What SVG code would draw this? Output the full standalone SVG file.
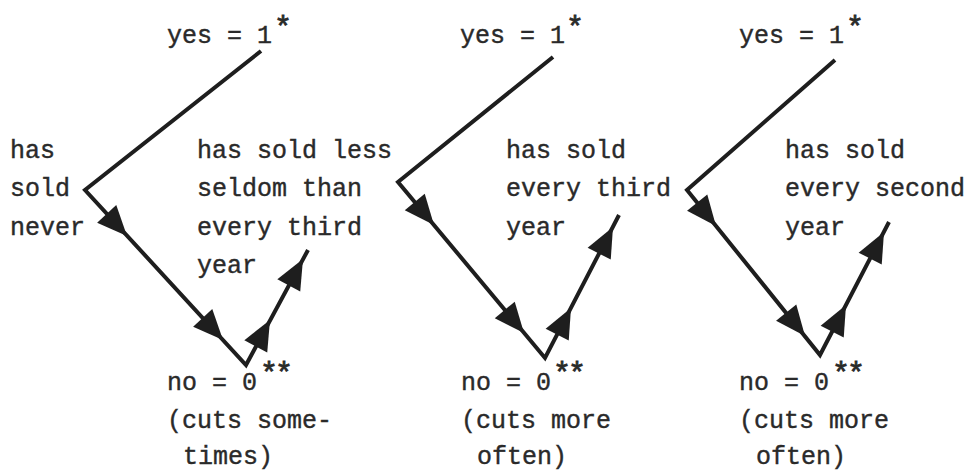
<svg xmlns="http://www.w3.org/2000/svg" xmlns:xlink="http://www.w3.org/1999/xlink" width="974" height="471" viewBox="0 0 974 471">
<style>
  text { font-family: "Liberation Mono", "DejaVu Sans Mono", monospace; font-size: 25px; fill: #2a2a2a; stroke: #2a2a2a; stroke-width: 0.4; }
  text.sup { font-size: 30px; stroke-width: 0.8; }
  text.sup2 { font-size: 30px; stroke-width: 0.8; letter-spacing: -3px; }
  .ln { fill: none; stroke: #1e1e1e; stroke-width: 4; stroke-linejoin: miter; stroke-linecap: butt; }
  .ah { fill: #1e1e1e; }
</style>
<defs>
  <path id="ah" class="ah" d="M0,0 L-30,-13 L-30,13 Z"/>
</defs>
<rect width="974" height="471" fill="#ffffff"/>

<g id="connectors">
  <polyline class="ln" points="261,51 85,190 246,365 308,250"/>
  <use xlink:href="#ah" transform="translate(127,236) rotate(47.4)"/>
  <use xlink:href="#ah" transform="translate(223,340) rotate(47.4)"/>
  <use xlink:href="#ah" transform="translate(270,320) rotate(-61.7)"/>
  <use xlink:href="#ah" transform="translate(303,259) rotate(-61.7)"/>

  <polyline class="ln" points="553,57 398,182 545,358 619,215"/>
  <use xlink:href="#ah" transform="translate(434,225) rotate(50.1)"/>
  <use xlink:href="#ah" transform="translate(524,333) rotate(50.1)"/>
  <use xlink:href="#ah" transform="translate(571,308) rotate(-62.6)"/>
  <use xlink:href="#ah" transform="translate(613,227) rotate(-62.6)"/>

  <polyline class="ln" points="835,60 687,190 820,355 889,222"/>
  <use xlink:href="#ah" transform="translate(716,226) rotate(51.1)"/>
  <use xlink:href="#ah" transform="translate(805,336) rotate(51.1)"/>
  <use xlink:href="#ah" transform="translate(846,305) rotate(-62.6)"/>
  <use xlink:href="#ah" transform="translate(884,232) rotate(-62.6)"/>
</g>

<g id="yes1">
  <text x="167" y="43">yes = 1</text>
  <text class="sup" x="274" y="37">*</text>
</g>
<g id="never">
  <text x="10" y="158">has</text>
  <text x="10" y="196">sold</text>
  <text x="10" y="235">never</text>
</g>
<g id="less">
  <text x="197" y="158">has sold less</text>
  <text x="197" y="196">seldom than</text>
  <text x="197" y="235">every third</text>
  <text x="197" y="273">year</text>
</g>
<g id="no1">
  <text x="167" y="390">no = 0</text>
  <text class="sup2" x="260" y="383">**</text>
  <text x="167" y="428">(cuts some-</text>
  <text x="183" y="464">times)</text>
</g>

<g id="yes2">
  <text x="460" y="43">yes = 1</text>
  <text class="sup" x="566" y="37">*</text>
</g>
<g id="third">
  <text x="506" y="158">has sold</text>
  <text x="506" y="196">every third</text>
  <text x="506" y="235">year</text>
</g>
<g id="no2">
  <text x="461" y="390">no = 0</text>
  <text class="sup2" x="553" y="383">**</text>
  <text x="461" y="428">(cuts more</text>
  <text x="477" y="464">often)</text>
</g>

<g id="yes3">
  <text x="739" y="43">yes = 1</text>
  <text class="sup" x="846" y="37">*</text>
</g>
<g id="second">
  <text x="785" y="158">has sold</text>
  <text x="785" y="196">every second</text>
  <text x="785" y="235">year</text>
</g>
<g id="no3">
  <text x="739" y="390">no = 0</text>
  <text class="sup2" x="832" y="383">**</text>
  <text x="739" y="428">(cuts more</text>
  <text x="756" y="464">often)</text>
</g>
</svg>
